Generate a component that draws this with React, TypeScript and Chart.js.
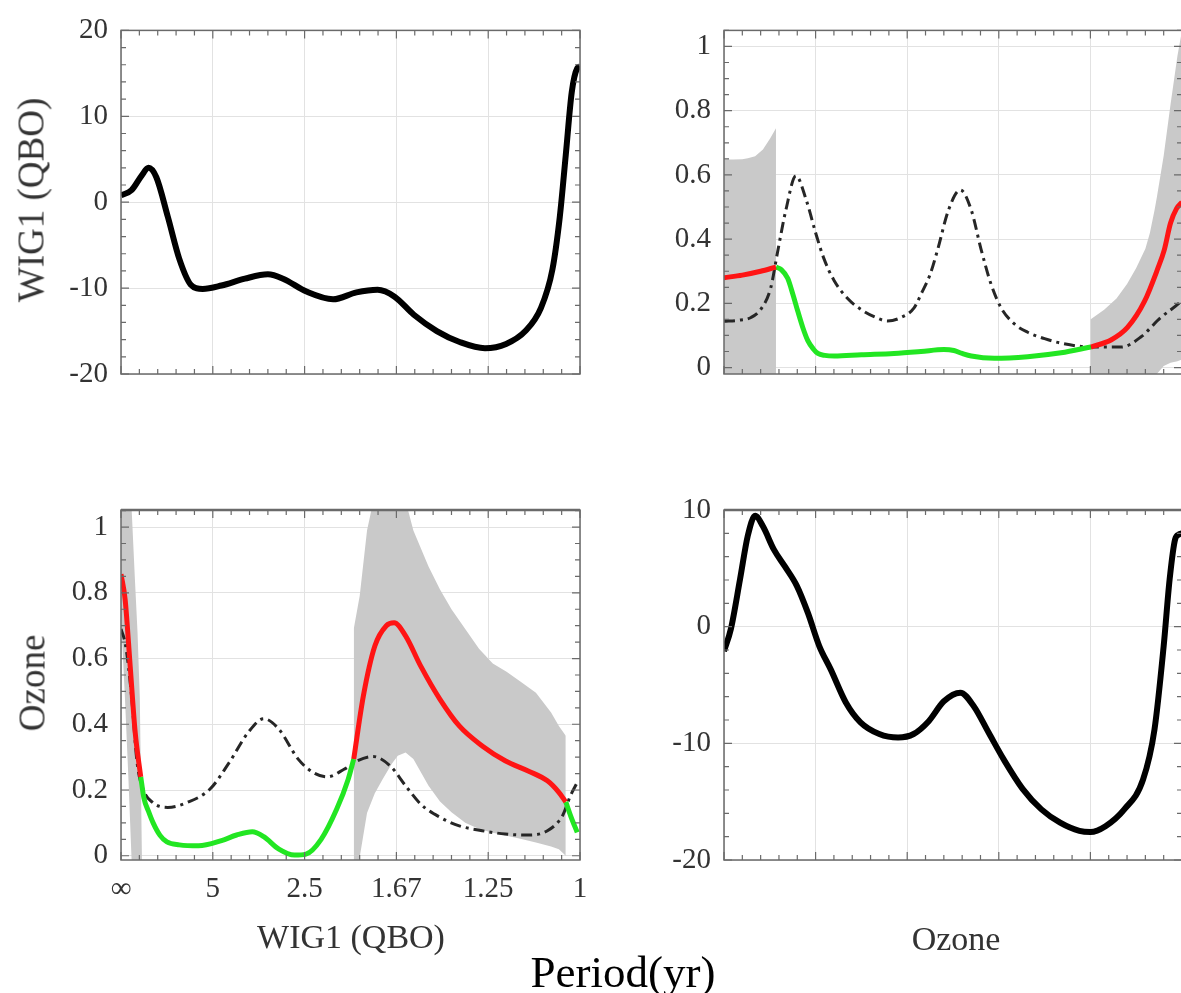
import React, { useEffect, useRef } from "react";
import { Chart, registerables } from "chart.js";

Chart.register(...registerables);

// ---------- axes ----------
const freqTicks = [0, 0.2, 0.4, 0.6, 0.8, 1];
const periodLabels = ["∞", "5", "2.5", "1.67", "1.25", "1"];
const wigTicks = [-20, -10, 0, 10, 20];
const cohTicks = [0, 0.2, 0.4, 0.6, 0.8, 1];
const ozTicks = [-20, -10, 0, 10];

// ---------- top-left: WIG1 (QBO) ----------
const wigFreq = [0, 0.023, 0.045, 0.06, 0.077, 0.102, 0.127, 0.152, 0.178, 0.219, 0.27, 0.32, 0.353, 0.404, 0.462, 0.513, 0.559, 0.596, 0.638, 0.688, 0.739, 0.793, 0.839, 0.881, 0.915, 0.94, 0.956, 0.969, 0.982, 0.994, 1.0];
const wigVal = [0.8, 1.4, 3.1, 4.0, 2.9, -1.7, -6.6, -9.6, -10.1, -9.7, -8.9, -8.4, -8.9, -10.4, -11.3, -10.5, -10.2, -11.0, -13.1, -15.0, -16.3, -17.0, -16.5, -15.0, -12.3, -7.8, -1.7, 5.5, 12.8, 15.6, 15.8];

// ---------- top-right: WIG1 vs Ozone ----------
const trBandAX = [0, 0.02, 0.04, 0.052, 0.068, 0.085, 0.101, 0.1135];
const trBandALo = [-0.1, -0.1, -0.1, -0.1, -0.1, -0.1, -0.1, -0.1];
const trBandAHi = [0.648, 0.648, 0.649, 0.652, 0.658, 0.679, 0.714, 0.745];
const trBandBX = [0.8, 0.83, 0.857, 0.88, 0.9, 0.92, 0.93, 0.94, 0.945, 0.96, 0.975, 0.99, 1.0];
const trBandBLo = [-0.1, -0.1, -0.1, -0.1, -0.08, -0.06, -0.04, -0.03, -0.02, 0.005, 0.015, 0.02, 0.025];
const trBandBHi = [0.15, 0.18, 0.215, 0.26, 0.31, 0.37, 0.42, 0.49, 0.53, 0.66, 0.82, 0.97, 1.05];
const trDashX = [0, 0.03, 0.059, 0.081, 0.102, 0.117, 0.135, 0.157, 0.18, 0.2, 0.218, 0.24, 0.27, 0.3, 0.33, 0.357, 0.385, 0.415, 0.43, 0.45, 0.467, 0.49, 0.516, 0.54, 0.561, 0.583, 0.605, 0.634, 0.663, 0.7, 0.736, 0.801, 0.867, 0.91, 0.953, 0.993, 1.0];
const trDashY = [0.144, 0.147, 0.156, 0.183, 0.248, 0.36, 0.49, 0.597, 0.52, 0.42, 0.34, 0.272, 0.215, 0.18, 0.157, 0.145, 0.155, 0.186, 0.228, 0.29, 0.37, 0.49, 0.553, 0.49, 0.37, 0.26, 0.186, 0.136, 0.11, 0.09, 0.076, 0.064, 0.064, 0.095, 0.155, 0.2, 0.21];
const trRedLX = [0, 0.04, 0.08, 0.1135];
const trRedLY = [0.28, 0.288, 0.3, 0.313];
const trGreenX = [0.1135, 0.125, 0.139, 0.15, 0.161, 0.172, 0.183, 0.195, 0.205, 0.22, 0.241, 0.3, 0.371, 0.43, 0.48, 0.502, 0.52, 0.54, 0.59, 0.663, 0.736, 0.801];
const trGreenY = [0.313, 0.305, 0.278, 0.23, 0.176, 0.125, 0.084, 0.058, 0.044, 0.038, 0.036, 0.04, 0.044, 0.05, 0.056, 0.053, 0.044, 0.036, 0.029, 0.034, 0.046, 0.064];
const trRedRX = [0.801, 0.845, 0.881, 0.918, 0.947, 0.961, 0.975, 0.988, 1.0];
const trRedRY = [0.064, 0.086, 0.125, 0.206, 0.308, 0.365, 0.45, 0.495, 0.515];

// ---------- bottom-left: Ozone vs WIG1 ----------
const blBand1X = [0, 0.0087, 0.016, 0.023, 0.03, 0.036, 0.041, 0.046];
const blBand1Lo = [0.73, 0.476, 0.24, -0.01, -0.05, -0.05, -0.05, -0.05];
const blBand1Hi = [1.3, 1.2, 1.12, 1.06, 0.85, 0.68, 0.48, -0.05];
const blBand2X = [0.507, 0.52, 0.536, 0.553, 0.57, 0.59, 0.603, 0.62, 0.637, 0.67, 0.695, 0.72, 0.75, 0.78, 0.81, 0.84, 0.87, 0.904, 0.937, 0.954, 0.969];
const blBand2Lo = [-0.05, -0.005, 0.13, 0.19, 0.233, 0.28, 0.304, 0.314, 0.294, 0.213, 0.165, 0.132, 0.1, 0.081, 0.07, 0.061, 0.052, 0.04, 0.028, 0.02, 0.0];
const blBand2Hi = [0.69, 0.79, 0.99, 1.1, 1.15, 1.15, 1.12, 1.08, 0.99, 0.88, 0.81, 0.75, 0.69, 0.63, 0.585, 0.56, 0.53, 0.496, 0.436, 0.395, 0.365];
const blDashX = [0, 0.01, 0.023, 0.035, 0.048, 0.069, 0.102, 0.144, 0.194, 0.236, 0.277, 0.311, 0.344, 0.386, 0.419, 0.449, 0.486, 0.515, 0.549, 0.586, 0.62, 0.653, 0.695, 0.737, 0.787, 0.837, 0.887, 0.929, 0.962, 0.979, 0.994];
const blDashY = [0.69, 0.64, 0.486, 0.284, 0.203, 0.162, 0.147, 0.162, 0.203, 0.284, 0.375, 0.417, 0.385, 0.294, 0.253, 0.24, 0.263, 0.289, 0.302, 0.274, 0.213, 0.157, 0.117, 0.091, 0.076, 0.066, 0.063, 0.076, 0.122, 0.182, 0.223];
const blRed1X = [0, 0.009, 0.02, 0.031, 0.043];
const blRed1Y = [0.857, 0.78, 0.577, 0.374, 0.24];
const blGreen1X = [0.043, 0.05, 0.06, 0.07, 0.085, 0.1, 0.127, 0.169, 0.219, 0.252, 0.286, 0.311, 0.344, 0.378, 0.403, 0.436, 0.47, 0.495, 0.507];
const blGreen1Y = [0.24, 0.175, 0.135, 0.1, 0.062, 0.042, 0.033, 0.03, 0.046, 0.063, 0.073, 0.058, 0.02, 0.002, 0.005, 0.05, 0.142, 0.233, 0.294];
const blRed2X = [0.507, 0.528, 0.553, 0.578, 0.595, 0.62, 0.653, 0.695, 0.737, 0.787, 0.837, 0.887, 0.929, 0.954, 0.969];
const blRed2Y = [0.294, 0.486, 0.638, 0.7, 0.709, 0.669, 0.577, 0.476, 0.395, 0.334, 0.289, 0.258, 0.228, 0.193, 0.164];
const blGreen2X = [0.969, 0.98, 0.994];
const blGreen2Y = [0.164, 0.12, 0.071];

// ---------- bottom-right: Ozone ----------
const ozFreq = [0, 0.015, 0.035, 0.052, 0.068, 0.085, 0.109, 0.134, 0.159, 0.183, 0.208, 0.233, 0.266, 0.298, 0.339, 0.38, 0.414, 0.447, 0.48, 0.516, 0.545, 0.578, 0.611, 0.652, 0.693, 0.734, 0.776, 0.8, 0.833, 0.874, 0.915, 0.94, 0.96, 0.973, 0.985, 0.993, 1.0];
const ozVal = [-2.1, -0.2, 4.06, 7.8, 9.5, 8.6, 6.6, 5.1, 3.5, 1.2, -1.66, -3.66, -6.5, -8.2, -9.2, -9.5, -9.2, -8.1, -6.4, -5.66, -6.8, -9.1, -11.4, -13.9, -15.66, -16.8, -17.5, -17.6, -17.1, -15.66, -13.1, -8.8, -1.66, 4.06, 7.5, 7.9, 8.0];

// ---------- styling ----------
const CW = 1200;
const CH = 993;
const YW = 100;
const XH = 60;
const SERIF = "'Liberation Serif', 'Times New Roman', serif";
const RED = "#ff1414";
const GREEN = "#22e622";
const BAND = "#c9c9c9";
const DASH = "#262626";

const pts = (xs: number[], ys: number[]) => xs.map((x, i) => ({ x, y: ys[i] }));

const lineDs = (xs: number[], ys: number[], color: string, width: number, extra: any = {}) => ({
  data: pts(xs, ys),
  borderColor: color,
  borderWidth: width,
  pointRadius: 0,
  fill: false,
  cubicInterpolationMode: "monotone",
  order: 1,
  ...extra,
});

const bandDs = (xs: number[], lo: number[], hi: number[]) => [
  { data: pts(xs, lo), borderColor: "rgba(0,0,0,0)", borderWidth: 0, pointRadius: 0, fill: false, tension: 0, order: 3 },
  { data: pts(xs, hi), borderColor: "rgba(0,0,0,0)", borderWidth: 0, pointRadius: 0, fill: "-1", backgroundColor: BAND, tension: 0, order: 3 },
];

const dashDs = (xs: number[], ys: number[]) =>
  lineDs(xs, ys, DASH, 3, { borderDash: [11, 5, 3, 5], order: 2 });

const frameTicks = {
  id: "frameTicks",
  afterDatasetsDraw(chart: any, _args: any, o: any) {
    const { ctx, chartArea: a } = chart;
    const xs = chart.scales.x;
    const ys = chart.scales.y;
    const minors = (min: number, max: number, step: number) => {
      const out: number[] = [];
      const s = Math.ceil(min / step - 1e-6);
      const e = Math.floor(max / step + 1e-6);
      for (let k = s; k <= e; k++) out.push(k * step);
      return out;
    };
    ctx.save();
    ctx.strokeStyle = o.color;
    ctx.lineWidth = 1.2;
    ctx.beginPath();
    const vx = (v: number, len: number) => {
      const p = xs.getPixelForValue(v);
      ctx.moveTo(p, a.bottom);
      ctx.lineTo(p, a.bottom - len);
      ctx.moveTo(p, a.top);
      ctx.lineTo(p, a.top + len);
    };
    const vy = (v: number, len: number) => {
      const p = ys.getPixelForValue(v);
      ctx.moveTo(a.left, p);
      ctx.lineTo(a.left + len, p);
      ctx.moveTo(a.right, p);
      ctx.lineTo(a.right - len, p);
    };
    minors(xs.min, xs.max, o.xMinor).forEach((v) => vx(v, 5));
    o.xMajor.forEach((v: number) => vx(v, 8));
    minors(ys.min, ys.max, o.yMinor).forEach((v) => vy(v, 5));
    o.yMajor.forEach((v: number) => vy(v, 8));
    ctx.stroke();
    ctx.lineWidth = 1.5;
    ctx.strokeRect(a.left, a.top, a.right - a.left, a.bottom - a.top);
    if (o.topWidth) {
      ctx.lineWidth = o.topWidth;
      ctx.beginPath();
      ctx.moveTo(a.left, a.top);
      ctx.lineTo(a.right, a.top);
      ctx.stroke();
    }
    ctx.restore();
  },
};

type Spec = {
  left: number;
  top: number;
  width: number;
  height: number;
  yMin: number;
  yMax: number;
  yTicks: number[];
  yMinor: number;
  showX: boolean;
  topWidth?: number;
  datasets: () => any[];
};

function buildConfig(s: Spec): any {
  const tickFont = { family: SERIF, size: 29 };
  return {
    type: "line",
    data: { datasets: s.datasets() },
    options: {
      animation: false,
      responsive: false,
      maintainAspectRatio: false,
      devicePixelRatio: 1,
      events: [],
      layout: {
        padding: {
          left: s.left - YW,
          top: s.top,
          right: CW - (s.left + s.width),
          bottom: CH - (s.top + s.height) - XH,
        },
      },
      plugins: {
        legend: { display: false },
        tooltip: { enabled: false },
        frameTicks: {
          color: "#6a6a6a",
          xMinor: 0.04,
          xMajor: freqTicks,
          yMinor: s.yMinor,
          yMajor: s.yTicks,
          topWidth: s.topWidth || 0,
        },
      },
      scales: {
        x: {
          type: "linear",
          min: 0,
          max: 1,
          bounds: "data",
          afterBuildTicks: (sc: any) => {
            sc.ticks = freqTicks.map((v) => ({ value: v }));
          },
          afterFit: (sc: any) => {
            sc.height = XH;
          },
          grid: { color: "#e2e2e2", lineWidth: 1, drawTicks: false },
          border: { display: false },
          ticks: {
            display: s.showX,
            autoSkip: false,
            maxRotation: 0,
            padding: 12,
            color: "#333",
            font: tickFont,
            callback: (_v: any, i: number) => periodLabels[i],
          },
        },
        y: {
          type: "linear",
          min: s.yMin,
          max: s.yMax,
          bounds: "data",
          afterBuildTicks: (sc: any) => {
            sc.ticks = s.yTicks.map((v) => ({ value: v }));
          },
          afterFit: (sc: any) => {
            sc.width = YW;
          },
          grid: { color: "#e2e2e2", lineWidth: 1, drawTicks: false },
          border: { display: false },
          ticks: {
            autoSkip: false,
            padding: 13,
            color: "#333",
            font: tickFont,
            callback: (v: any) => String(v),
          },
        },
      },
    },
    plugins: [frameTicks],
  };
}

const specs: Spec[] = [
  {
    left: 121, top: 23, width: 459, height: 351,
    yMin: -20, yMax: 20, yTicks: wigTicks, yMinor: 2, showX: false,
    datasets: () => [lineDs(wigFreq, wigVal, "#000", 6)],
  },
  {
    left: 724, top: 23, width: 458, height: 351,
    yMin: -0.02, yMax: 1.05, yTicks: cohTicks, yMinor: 0.05, showX: false,
    datasets: () => [
      ...bandDs(trBandAX, trBandALo, trBandAHi),
      ...bandDs(trBandBX, trBandBLo, trBandBHi),
      dashDs(trDashX, trDashY),
      lineDs(trRedLX, trRedLY, RED, 5),
      lineDs(trGreenX, trGreenY, GREEN, 5),
      lineDs(trRedRX, trRedRY, RED, 5),
    ],
  },
  {
    left: 121, top: 510, width: 459, height: 350,
    yMin: -0.013, yMax: 1.052, yTicks: cohTicks, yMinor: 0.05, showX: true, topWidth: 2.5,
    datasets: () => [
      ...bandDs(blBand1X, blBand1Lo, blBand1Hi),
      ...bandDs(blBand2X, blBand2Lo, blBand2Hi),
      dashDs(blDashX, blDashY),
      lineDs(blRed1X, blRed1Y, RED, 5),
      lineDs(blGreen1X, blGreen1Y, GREEN, 5),
      lineDs(blRed2X, blRed2Y, RED, 5),
      lineDs(blGreen2X, blGreen2Y, GREEN, 5),
    ],
  },
  {
    left: 724, top: 510, width: 458, height: 350,
    yMin: -20, yMax: 10, yTicks: ozTicks, yMinor: 2, showX: false, topWidth: 2.5,
    datasets: () => [lineDs(ozFreq, ozVal, "#000", 6)],
  },
];

function Panel({ spec }: { spec: Spec }) {
  const ref = useRef<HTMLCanvasElement>(null);
  useEffect(() => {
    if (!ref.current) return;
    const chart = new Chart(ref.current, buildConfig(spec));
    return () => chart.destroy();
  }, [spec]);
  return (
    <canvas
      ref={ref}
      width={CW}
      height={CH}
      style={{ position: "absolute", left: 0, top: 0, width: CW, height: CH }}
    />
  );
}

const titleBase: React.CSSProperties = {
  position: "absolute",
  fontFamily: SERIF,
  fontSize: 34,
  color: "#333",
  whiteSpace: "nowrap",
  lineHeight: 1,
};

export default function App() {
  return (
    <div
      style={{
        position: "fixed",
        left: 0,
        top: 0,
        width: 1181,
        height: 993,
        overflow: "hidden",
        background: "#fff",
      }}
    >
      {specs.map((s, i) => (
        <Panel key={i} spec={s} />
      ))}
      <div style={{ ...titleBase, fontSize: 37, left: 31, top: 200, transform: "translate(-50%, -50%) rotate(-90deg)" }}>
        WIG1 (QBO)
      </div>
      <div style={{ ...titleBase, fontSize: 37, left: 32, top: 683, transform: "translate(-50%, -50%) rotate(-90deg)" }}>
        Ozone
      </div>
      <div style={{ ...titleBase, left: 351, top: 937, transform: "translate(-50%, -50%)" }}>
        WIG1 (QBO)
      </div>
      <div style={{ ...titleBase, left: 956, top: 939, transform: "translate(-50%, -50%)" }}>
        Ozone
      </div>
      <div
        style={{
          position: "absolute",
          left: 623,
          top: 950,
          transform: "translateX(-50%)",
          fontFamily: SERIF,
          fontSize: 45,
          lineHeight: "45px",
          color: "#000",
          whiteSpace: "nowrap",
        }}
      >
        Period(yr)
      </div>
    </div>
  );
}
